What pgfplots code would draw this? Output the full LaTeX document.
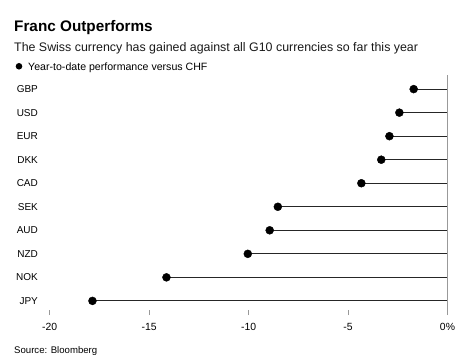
\documentclass[border=0pt]{standalone}
\usepackage{pgfplots}
\pgfplotsset{compat=1.18}
\usepackage{pgfplotstable}
\usepackage{fontspec}
\setmainfont{Liberation Sans}
\definecolor{axisgray}{HTML}{999999}
\definecolor{stem}{HTML}{262626}
\pgfplotstableread{
idx value name
0 -1.70 GBP
1 -2.42 USD
2 -2.92 EUR
3 -3.33 DKK
4 -4.33 CAD
5 -8.53 SEK
6 -8.94 AUD
7 -10.04 NZD
8 -14.13 NOK
9 -17.85 JPY
}\datatable
\begin{document}
\begin{tikzpicture}
\useasboundingbox (0,0) rectangle (468bp,364bp);
\node[anchor=base west, inner sep=0, font=\bfseries\fontsize{15.3bp}{17bp}\selectfont] at (14bp,332bp) {Franc Outperforms};
\node[anchor=base west, inner sep=0, font=\fontsize{12.4bp}{14bp}\selectfont, text=black!90] at (14bp,312.3bp) {The Swiss currency has gained against all G10 currencies so far this year};
\fill (19bp,297.7bp) circle (3.3bp);
\node[anchor=base west, inner sep=0, font=\fontsize{10.6bp}{12bp}\selectfont] at (28bp,293.3bp) {Year-to-date performance versus CHF};
\node[anchor=base west, inner sep=0, font=\fontsize{9.6bp}{11bp}\selectfont] at (14bp,10.7bp) {Source: Bloomberg};
\begin{axis}[
  at={(49.7bp,49bp)}, anchor=south west,
  scale only axis, width=397.8bp, height=240bp,
  xmin=-20, xmax=0, ymin=-0.6, ymax=9.6, y dir=reverse,
  clip=false,
  axis line style={draw=none},
  xtick={-20,-15,-10,-5,0},
  xticklabels={-20,-15,-10,-5,0\%},
  xtick pos=bottom, tick align=inside,
  major tick length=5bp,
  xtick style={axisgray, line width=0.8bp},
  ytick={0,...,9},
  yticklabels={GBP,USD,EUR,DKK,CAD,SEK,AUD,NZD,NOK,JPY},
  ytick style={draw=none},
  yticklabel style={font=\fontsize{10bp}{12bp}\selectfont, xshift=-8.3bp},
  xticklabel style={font=\fontsize{10.4bp}{12bp}\selectfont, yshift=-5bp},
  /pgf/number format/assume math mode=true,
  grid=none,
]
\addplot[xcomb, stem, line width=1.1bp] table[x=value, y=idx] {\datatable};
\addplot[only marks, mark=*, mark size=4bp, black] table[x=value, y=idx] {\datatable};
\addplot[axisgray, line width=1.2bp] coordinates {(0,-0.6) (0,9.6)};
\end{axis}
\end{tikzpicture}
\end{document}
